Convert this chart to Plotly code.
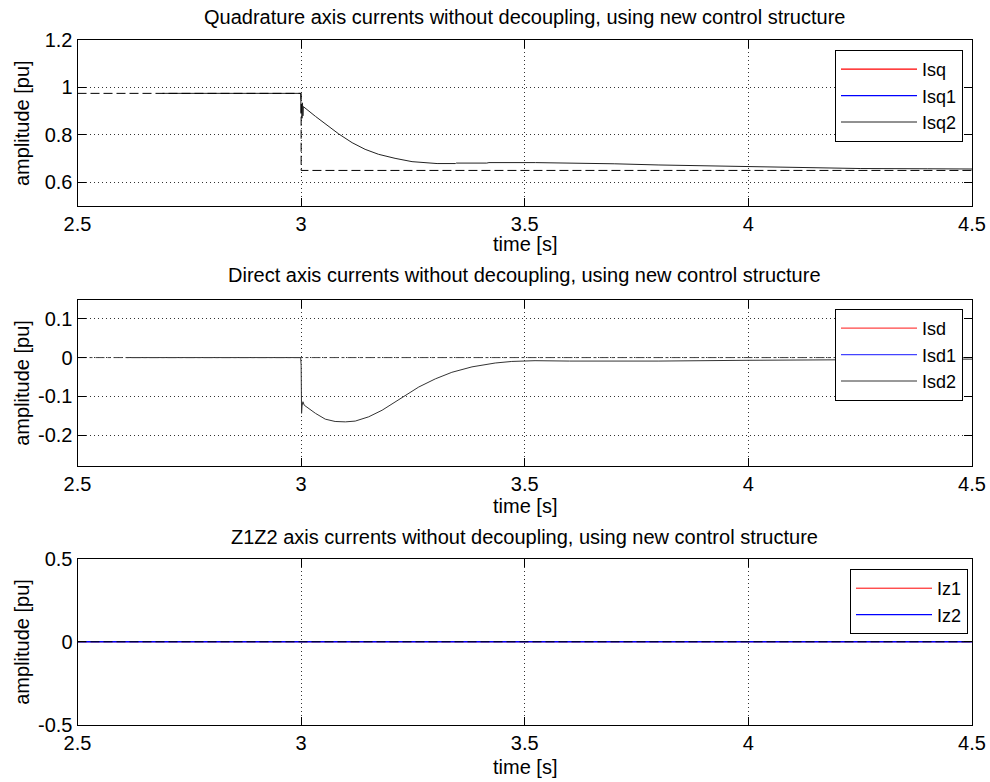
import plotly.graph_objects as go

W, H = 990, 782

# ---------------- data ----------------
x_ticks = [2.5, 3, 3.5, 4, 4.5]
x_ticklabels = ["2.5", "3", "3.5", "4", "4.5"]

# Panel 1: quadrature axis
isq_ref_t = [2.5, 3.0, 3.0, 4.5]
isq_ref_v = [0.975, 0.975, 0.65, 0.65]
isq2_t = [2.69, 2.999, 3.0, 3.001, 3.002, 3.003, 3.004, 3.005, 3.032, 3.061, 3.084,
          3.114, 3.143, 3.173, 3.210, 3.248, 3.270, 3.304, 3.345, 3.347, 3.415, 3.42,
          3.524, 3.61, 3.7, 3.8, 3.9, 4.0, 4.1, 4.25, 4.4, 4.5]
isq2_v = [0.975, 0.975, 0.89, 0.93, 0.87, 0.935, 0.88, 0.919, 0.878, 0.836, 0.804,
          0.767, 0.739, 0.718, 0.701, 0.687, 0.683, 0.679, 0.679, 0.681, 0.681, 0.683,
          0.683, 0.682, 0.678, 0.673, 0.669, 0.665, 0.662, 0.658, 0.657, 0.656]
q_yticks = [0.6, 0.8, 1.0, 1.2]
q_yticklabels = ["0.6", "0.8", "1", "1.2"]

# Panel 2: direct axis
isd_ref_t = [2.5, 4.5]
isd_ref_v = [0.0, 0.0]
isd2_t = [2.61, 2.999, 3.0, 3.001, 3.002, 3.004, 3.007, 3.032, 3.054, 3.076, 3.099,
          3.121, 3.151, 3.181, 3.210, 3.233, 3.263, 3.300, 3.337, 3.382, 3.434, 3.471,
          3.523, 3.6, 3.8, 4.0, 4.25, 4.5]
isd2_v = [0.0, 0.0, -0.02, -0.144, -0.125, -0.114, -0.123, -0.144, -0.159, -0.165, -0.166,
          -0.164, -0.153, -0.136, -0.115, -0.097, -0.076, -0.055, -0.038, -0.024, -0.014,
          -0.010, -0.008, -0.009, -0.009, -0.007, -0.005, -0.004]
d_yticks = [-0.2, -0.1, 0.0, 0.1]
d_yticklabels = ["-0.2", "-0.1", "0", "0.1"]

# Panel 3: z1z2 axis
iz_t = [2.5, 4.5]
iz1_v = [0.0, 0.0]
iz2_v = [0.0, 0.0]
iz_ref_v = [0.0, 0.0]
z_yticks = [-0.5, 0.0, 0.5]
z_yticklabels = ["-0.5", "0", "0.5"]

titles = ["Quadrature axis currents without decoupling, using new control structure",
          "Direct axis currents without decoupling, using new control structure",
          "Z1Z2 axis currents without decoupling, using new control structure"]
legend_names = [["Isq", "Isq1", "Isq2"], ["Isd", "Isd1", "Isd2"], ["Iz1", "Iz2"]]

# ---------------- layout geometry ----------------
FONT = "Liberation Sans, Arial, sans-serif"
FS = 20
LFS = 18
x0, x1 = 77.5, 972.0
panels_px = [(40.0, 206.0), (299.5, 466.0), (558.5, 725.0)]
title_px = [17, 275, 537]
xlabel_px = [244, 506, 767]
yranges = [[0.5, 1.2], [-0.28, 0.15], [-0.5, 0.5]]

fig = go.Figure()

def ydom(top, bot):
    return [1 - bot / H, 1 - top / H]

DASH = "9px,4px"
DASHDOT = "9px,3px,3px,3px"

# panel 1
fig.add_trace(go.Scatter(x=[None], y=[None], mode="lines", name=legend_names[0][0],
                         line=dict(color="red", width=1.3), xaxis="x", yaxis="y", legend="legend"))
fig.add_trace(go.Scatter(x=[None], y=[None], mode="lines", name=legend_names[0][1],
                         line=dict(color="blue", width=1.3), xaxis="x", yaxis="y", legend="legend"))
fig.add_trace(go.Scatter(x=isq2_t, y=isq2_v, mode="lines", name=legend_names[0][2],
                         line=dict(color="#222222", width=1), xaxis="x", yaxis="y", legend="legend"))
fig.add_trace(go.Scatter(x=isq_ref_t, y=isq_ref_v, mode="lines", showlegend=False,
                         line=dict(color="black", width=1, dash=DASH), xaxis="x", yaxis="y"))

# panel 2
fig.add_trace(go.Scatter(x=[None], y=[None], mode="lines", name=legend_names[1][0],
                         line=dict(color="#ff4444", width=1.3), xaxis="x2", yaxis="y2", legend="legend2"))
fig.add_trace(go.Scatter(x=[None], y=[None], mode="lines", name=legend_names[1][1],
                         line=dict(color="#4444ff", width=1.3), xaxis="x2", yaxis="y2", legend="legend2"))
fig.add_trace(go.Scatter(x=isd2_t, y=isd2_v, mode="lines", name=legend_names[1][2],
                         line=dict(color="#333333", width=1), xaxis="x2", yaxis="y2", legend="legend2"))
fig.add_trace(go.Scatter(x=isd_ref_t, y=isd_ref_v, mode="lines", showlegend=False,
                         line=dict(color="#444444", width=1, dash=DASHDOT), xaxis="x2", yaxis="y2"))

# panel 3
fig.add_trace(go.Scatter(x=iz_t, y=iz1_v, mode="lines", name=legend_names[2][0],
                         line=dict(color="red", width=1), xaxis="x3", yaxis="y3", legend="legend3"))
fig.add_trace(go.Scatter(x=iz_t, y=iz2_v, mode="lines", name=legend_names[2][1],
                         line=dict(color="blue", width=1.3), xaxis="x3", yaxis="y3", legend="legend3"))
fig.add_trace(go.Scatter(x=iz_t, y=iz_ref_v, mode="lines", showlegend=False,
                         line=dict(color="black", width=1, dash=DASH), xaxis="x3", yaxis="y3"))

axis_common = dict(showline=True, linecolor="black", linewidth=1, mirror="ticks",
                   ticks="inside", ticklen=8, tickcolor="black", tickwidth=1,
                   showgrid=True, gridcolor="#333333", gridwidth=1, griddash="1px,3px",
                   zeroline=False, automargin=False,
                   tickfont=dict(family=FONT, size=FS, color="black"))

layout = dict(width=W, height=H, margin=dict(l=0, r=0, t=0, b=0, pad=0, autoexpand=False),
              paper_bgcolor="white", plot_bgcolor="white",
              font=dict(family=FONT, size=FS, color="black"))

yticks_all = [(q_yticks, q_yticklabels), (d_yticks, d_yticklabels), (z_yticks, z_yticklabels)]
annotations = []
cx = (x0 + x1) / 2 / W
for i, (top, bot) in enumerate(panels_px):
    sfx = "" if i == 0 else str(i + 1)
    layout["xaxis" + sfx] = dict(axis_common, domain=[x0 / W, x1 / W], range=[2.5, 4.5],
                                 anchor="y" + sfx, tickvals=x_ticks, ticktext=x_ticklabels,
                                 ticklabelstandoff=0)
    layout["yaxis" + sfx] = dict(axis_common, domain=ydom(top, bot), range=yranges[i],
                                 anchor="x" + sfx, tickvals=yticks_all[i][0],
                                 ticktext=yticks_all[i][1], ticklabelstandoff=0)
    annotations.append(dict(text=titles[i], x=cx, y=1 - title_px[i] / H, xref="paper", yref="paper",
                            showarrow=False, xanchor="center", yanchor="middle",
                            font=dict(family=FONT, size=FS, color="black")))
    annotations.append(dict(text="time [s]", x=cx, y=1 - xlabel_px[i] / H, xref="paper", yref="paper",
                            showarrow=False, xanchor="center", yanchor="middle",
                            font=dict(family=FONT, size=FS, color="black")))
    annotations.append(dict(text="amplitude [pu]", x=22 / W, y=1 - (top + bot) / 2 / H,
                            xref="paper", yref="paper", textangle=-90,
                            showarrow=False, xanchor="center", yanchor="middle",
                            font=dict(family=FONT, size=FS, color="black")))
layout["annotations"] = annotations

leg_common = dict(bgcolor="white", bordercolor="black", borderwidth=1,
                  font=dict(family=FONT, size=LFS, color="black"), xanchor="right",
                  yanchor="top", itemwidth=76, tracegroupgap=0)
layout["legend"] = dict(leg_common, x=963 / W, y=1 - 50 / H)
layout["legend2"] = dict(leg_common, x=963 / W, y=1 - 309 / H)
layout["legend3"] = dict(leg_common, x=968 / W, y=1 - 569 / H)

fig.update_layout(**layout)
fig.write_html("out.html")
